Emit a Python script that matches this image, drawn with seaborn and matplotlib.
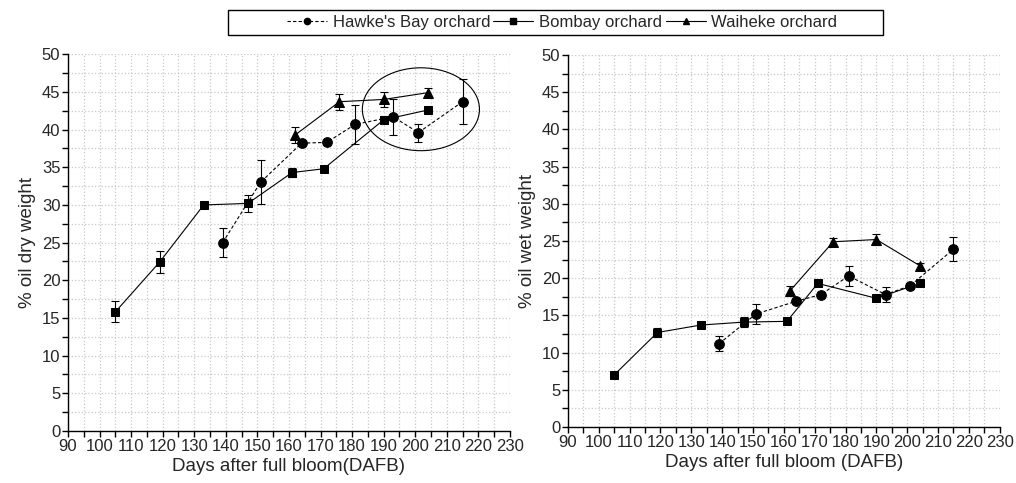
import numpy as np
import pandas as pd
import matplotlib
matplotlib.use("Agg")
import matplotlib.pyplot as plt
import seaborn as sns
from matplotlib.patches import Ellipse, Rectangle
from matplotlib.ticker import MultipleLocator
from matplotlib.lines import Line2D

series_names = ["Hawke's Bay orchard", "Bombay orchard", "Waiheke orchard"]

hb_days = [139, 151, 164, 172, 181, 193, 201, 215]
hb_dry = [25.0, 33.0, 38.2, 38.3, 40.7, 41.7, 39.6, 43.7]
hb_dry_err = [1.9, 2.9, 0.3, 0.3, 2.6, 2.4, 1.2, 3.0]
hb_wet = [11.2, 15.2, 16.9, 17.8, 20.3, 17.8, 19.0, 23.9]
hb_wet_err = [1.0, 1.3, 0.3, 0.3, 1.3, 1.0, 0.4, 1.6]

bo_days = [105, 119, 133, 147, 161, 171, 190, 204]
bo_dry = [15.8, 22.4, 30.0, 30.2, 34.3, 34.8, 41.3, 42.6]
bo_dry_err = [1.4, 1.45, 0.15, 1.1, 0.6, 0.4, 0.2, 0.2]
bo_wet = [7.0, 12.7, 13.7, 14.1, 14.2, 19.3, 17.3, 19.3]
bo_wet_err = [0.4, 0.6, 0.2, 0.7, 0.2, 0.2, 0.2, 0.2]

wa_days = [162, 176, 190, 204]
wa_dry = [39.3, 43.7, 44.0, 44.9]
wa_dry_err = [1.1, 1.05, 1.0, 0.6]
wa_wet = [18.3, 24.9, 25.2, 21.7]
wa_wet_err = [0.7, 0.5, 0.8, 0.4]

x_ticks = list(range(90, 231, 10))
y_ticks = list(range(0, 51, 5))

sns.set_style("white")
plt.rcParams['font.family'] = ['Liberation Sans', 'DejaVu Sans']

fig = plt.figure(figsize=(10.16, 4.83), dpi=100)
ax1 = fig.add_axes([0.0669, 0.1077, 0.435, 0.780])
ax2 = fig.add_axes([0.559, 0.116, 0.425, 0.770])

dash = (0, (3, 2))
styles = {
    "Hawke's Bay orchard": dict(marker='o', ls=dash, ms=7),
    "Bombay orchard": dict(marker='s', ls='-', ms=6.3),
    "Waiheke orchard": dict(marker='^', ls='-', ms=7.5),
}

def draw(ax, data):
    for name, (d, v, e) in data.items():
        st = styles[name]
        df = pd.DataFrame({"day": d, "val": v})
        sns.lineplot(data=df, x="day", y="val", ax=ax, color='black',
                     linestyle=st['ls'], linewidth=0.8, marker=st['marker'],
                     markersize=st['ms'], markeredgecolor='black',
                     markerfacecolor='black', estimator=None, sort=True,
                     legend=False, zorder=3)
        ax.errorbar(d, v, yerr=e, fmt='none', ecolor='black', elinewidth=0.8,
                    capsize=3, capthick=0.8, zorder=2)
    ax.set_xlim(90, 230)
    ax.set_ylim(0, 50)
    ax.set_xticks(x_ticks)
    ax.set_yticks(y_ticks)
    ax.xaxis.set_minor_locator(MultipleLocator(5))
    ax.yaxis.set_minor_locator(MultipleLocator(2.5))
    ax.grid(True, which='both', color='#c8c8c8', linestyle=':', linewidth=0.9)
    ax.set_axisbelow(True)
    for s in ['top', 'right']:
        ax.spines[s].set_visible(False)
    for s in ['left', 'bottom']:
        ax.spines[s].set_color('black')
        ax.spines[s].set_linewidth(1.0)
    ax.tick_params(which='both', direction='out', length=4, width=1.0,
                   color='black', labelsize=12, pad=1.5, left=True, bottom=True)
    ax.tick_params(which='minor', length=4)

draw(ax1, {
    "Hawke's Bay orchard": (hb_days, hb_dry, hb_dry_err),
    "Bombay orchard": (bo_days, bo_dry, bo_dry_err),
    "Waiheke orchard": (wa_days, wa_dry, wa_dry_err),
})
draw(ax2, {
    "Hawke's Bay orchard": (hb_days, hb_wet, hb_wet_err),
    "Bombay orchard": (bo_days, bo_wet, bo_wet_err),
    "Waiheke orchard": (wa_days, wa_wet, wa_wet_err),
})

ax1.set_xlabel("Days after full bloom(DAFB)", fontsize=13.5, labelpad=3)
ax1.set_ylabel("% oil dry weight", fontsize=13.5, labelpad=4)
ax2.set_xlabel("Days after full bloom (DAFB)", fontsize=13.5, labelpad=3)
ax2.set_ylabel("% oil wet weight", fontsize=13.5, labelpad=4)

ax1.add_patch(Ellipse((201.8, 42.7), 37.1, 11.0, fill=False, ec='black', lw=0.8, zorder=4))

handles = [Line2D([], [], color='black', lw=0.8, ls=styles[n]['ls'],
                  marker=styles[n]['marker'], ms=4.5) for n in series_names]
fig.legend(handles, series_names, loc='center', bbox_to_anchor=(562/1016, 1 - 22.5/483),
           ncol=3, frameon=False, fontsize=12, handlelength=2.4,
           handletextpad=0.35, columnspacing=0.2)
fig.patches.append(Rectangle((228/1016, 1 - 35/483), (883-228)/1016, 25/483,
                             transform=fig.transFigure, fill=False, ec='black', lw=1.0))

fig.savefig("out.png", dpi=100)
